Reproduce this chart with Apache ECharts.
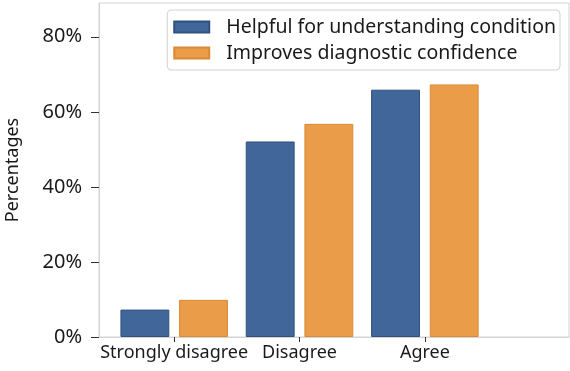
<!DOCTYPE html>
<html>
<head>
<meta charset="utf-8">
<script src="https://cdn.jsdelivr.net/npm/echarts@6/dist/echarts.min.js"></script>
<style>html,body{margin:0;padding:0;background:#fff}#c{width:570px;height:371px}</style>
</head>
<body>
<div id="c"></div>
<script>
const categories = ['Strongly disagree', 'Disagree', 'Agree'];
const seriesNames = ['Helpful for understanding condition', 'Improves diagnostic confidence'];
const helpful = [7.3, 52.1, 65.9];
const improves = [9.9, 56.8, 67.3];
const yTicks = [0, 20, 40, 60, 80];

const font = 'Noto Sans';
const chart = echarts.init(document.getElementById('c'), null, {renderer: 'canvas'});
const pos = categories.map((c, i) => i);
chart.setOption({
  animation: false,
  textStyle: {fontFamily: font},
  grid: {left: 99, right: 1, top: 3, bottom: 34, show: true, borderColor: '#d4d4d4', borderWidth: 1,
         containLabel: false, outerBoundsMode: 'none'},
  legend: {
    orient: 'vertical', right: 10, top: 10,
    itemWidth: 35, itemHeight: 11, itemGap: 6,
    icon: 'rect',
    padding: [7, 4, 7, 6],
    borderColor: '#d0d0d0', borderWidth: 1, borderRadius: 4,
    textStyle: {fontFamily: font, fontSize: 19.5, color: '#1a1a1a', padding: [0, 0, 0, 12]},
    data: seriesNames
  },
  xAxis: {
    type: 'value', min: -0.6, max: 3.15,
    splitLine: {show: false},
    axisLine: {show: true, onZero: false, lineStyle: {color: '#d4d4d4'}},
    axisTick: {show: true, customValues: pos, length: 5, lineStyle: {color: '#333'}},
    axisLabel: {customValues: pos, fontSize: 18, color: '#1a1a1a', margin: 7,
      formatter: v => categories[Math.round(v)] || ''}
  },
  yAxis: {
    type: 'value', min: 0, max: 89,
    name: 'Percentages', nameLocation: 'middle', nameGap: 77, nameRotate: 90,
    nameTextStyle: {fontFamily: font, fontSize: 18, color: '#1a1a1a'},
    splitLine: {show: false},
    axisLine: {show: true, onZero: false, lineStyle: {color: '#d4d4d4'}},
    axisTick: {show: true, customValues: yTicks, length: 8, lineStyle: {color: '#333'}},
    axisLabel: {customValues: yTicks, fontSize: 20, color: '#1a1a1a', margin: 17, formatter: v => v + '%'}
  },
  series: [
    {name: seriesNames[0], type: 'bar', barWidth: '39%', barGap: '20%',
     data: helpful.map((v, i) => [pos[i], v]),
     itemStyle: {color: '#41679a', borderColor: '#2f5080', borderWidth: 1}},
    {name: seriesNames[1], type: 'bar', barWidth: '39%', barGap: '20%',
     data: improves.map((v, i) => [pos[i], v]),
     itemStyle: {color: '#eb9c48', borderColor: '#dc8a35', borderWidth: 1}}
  ]
});
</script>
</body>
</html>
